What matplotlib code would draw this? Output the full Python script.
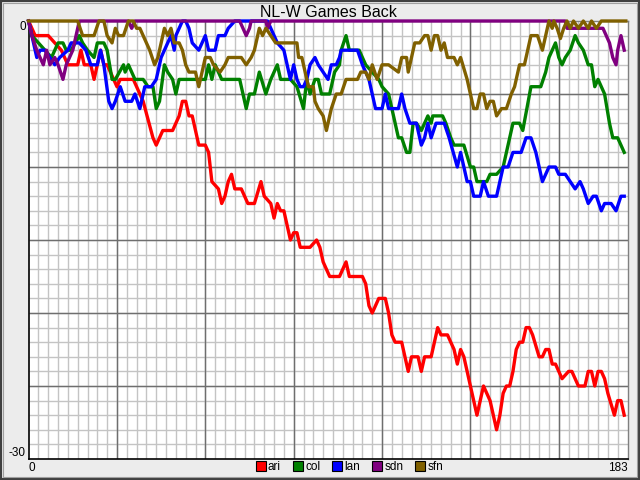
import numpy as np
import matplotlib
matplotlib.use("Agg")
import matplotlib.pyplot as plt
from matplotlib.patches import Patch, Rectangle

plt.rcParams['font.family'] = ['Liberation Sans', 'DejaVu Sans']

# games back per team (day of season, games back)
ari_day = [0, 2, 6, 8, 10, 12, 15, 16, 17, 19, 20, 22, 23, 24, 26, 27, 28, 32, 33, 35,
           38, 39, 41, 44, 46, 47, 48, 49, 50, 52, 54, 55, 56, 58, 59, 60, 61, 62, 63, 65,
           67, 69, 71, 72, 74, 75, 76, 77, 78, 79, 80, 81, 82, 83, 86, 88, 89, 90, 92, 95,
           97, 98, 102, 103, 104, 105, 106, 107, 109, 110, 111, 112, 114, 115, 116, 117, 119, 120, 121, 123,
           124, 125, 126, 128, 130, 131, 132, 133, 134, 135, 136, 137, 138, 139, 140, 141, 142, 143, 144, 145,
           146, 147, 148, 149, 150, 151, 152, 153, 154, 156, 157, 158, 159, 160, 161, 162, 163, 165, 166, 167,
           168, 170, 171, 172, 173, 174, 175, 176, 177, 179, 180, 181, 182]
ari_gb = [0, 1, 1, 1.5, 2, 3, 3, 2, 3, 3, 4, 2, 3, 3, 4, 4.5, 4, 4, 4.5, 5.5,
          8, 8.5, 7.5, 7.5, 6.5, 5.5, 5.5, 6.5, 6.5, 8.5, 8.5, 9, 11, 11.5, 12.5, 12, 11, 10.5, 11.5, 11.5,
          12.5, 12.5, 11, 12, 12.5, 13.5, 12.5, 13, 13, 14, 15, 14.5, 14.5, 15.5, 15.5, 15, 15.5, 16.5, 17.5, 17.5,
          16.5, 17.5, 17.5, 18, 19.5, 20, 19.5, 19, 19, 20, 21.5, 22, 22, 23, 24, 23, 23, 24, 23, 23,
          22, 21, 21.5, 21.5, 22.5, 23.5, 22.5, 23, 24, 25, 26, 27, 26, 25, 25.5, 26, 27, 28, 27, 25.5,
          25, 25, 24, 22.5, 22, 22, 21, 21, 21.5, 23, 23, 22.5, 22.5, 23.5, 23.5, 24, 24.5, 24, 24, 24.5,
          25, 25, 24, 24, 25, 24, 24, 24.5, 25.5, 27, 26, 26, 27]

col_day = [0, 1, 3, 5, 7, 9, 10.5, 11.5, 13, 15.5, 16.5, 18, 20, 21, 23, 24, 25.5, 26.5, 29, 29.5,
           30.5, 32.5, 35, 36.5, 38, 39, 40, 41.5, 42.5, 44, 45, 46, 54, 55, 56, 57, 59, 64.5, 65.5, 66.5,
           67.5, 69, 70.5, 72.5, 74, 76, 77, 80, 82, 84, 85, 86, 87.5, 88.5, 89.5, 92, 93.5, 95, 95.5, 97,
           98, 101, 103, 105, 107, 108, 110, 111.5, 113, 114, 115.5, 116.5, 117.5, 118.5, 120, 121, 122, 123, 123.5, 126.5,
           127.5, 129, 130, 133, 135, 136, 137, 140, 141, 143, 145, 146.5, 148, 150, 151, 153.5, 156.5, 158, 159, 161,
           162, 163, 164, 165.5, 167, 168, 169.5, 171, 172, 173, 174, 176, 177.5, 178.5, 180, 181, 182]
col_gb = [0, 1, 1.5, 2, 2.5, 1.5, 1.5, 2, 2, 1, 1.5, 2, 2.5, 1.5, 1.5, 2, 4, 4, 3, 3.5,
          3, 4, 4, 4.5, 4.5, 6, 5.5, 3, 3.5, 4, 5, 4, 4, 3, 4, 3, 4, 4, 5, 6,
          5, 5, 3.5, 5, 4, 3, 4, 4, 4.5, 6, 4, 5, 4, 4, 5, 5, 3.5, 3, 2, 1,
          2, 2, 3, 3.5, 4, 4.5, 5, 6.5, 8, 8, 9, 9, 7, 7, 7.5, 7, 6.5, 7, 6.5, 6.5,
          7, 8, 8.5, 8.5, 10, 10, 11, 11, 10.5, 10.5, 10, 8.5, 7, 7, 7.5, 4.5, 4.5, 3.5, 2.5, 1.5,
          2.5, 3, 2.5, 2, 1, 1.5, 2, 3, 3, 4.5, 4, 5, 7, 8, 8, 8.5, 9]

lan_day = [0, 1, 2.5, 3.5, 5, 6.5, 8, 9.5, 12, 13, 15.5, 17.5, 19, 21, 22, 23, 24.5, 25.5, 26.5, 28,
           29.5, 31.5, 32.5, 34, 35, 35.5, 37.5, 39, 40.5, 41.5, 42.5, 43.5, 44.5, 45, 47, 48, 49, 50, 52, 53,
           54, 55, 57, 58, 60, 61, 63, 73, 74, 76, 78, 79, 80, 81, 82, 83, 84, 85, 86, 87.5,
           88.5, 90, 91.5, 92.5, 94, 95, 95.5, 100.5, 102, 104, 105, 106, 108, 109, 110, 113, 114, 115, 116.5, 118.5,
           120, 121, 122, 123, 124.5, 127, 128.5, 131, 132, 134, 135, 136, 138, 139, 140.5, 143, 145, 146.5, 148, 150.5,
           152, 153.5, 155, 157, 159, 161, 162, 164, 165.5, 167, 168.5, 169.5, 171, 172.5, 173.5, 175, 176, 178, 179.5, 181,
           182]
lan_gb = [0, 1, 2.5, 2, 2, 2.5, 3, 2.5, 2, 1.5, 1.5, 2, 3, 3, 2, 3, 5.5, 6, 5.5, 4.5,
          5.5, 5.5, 5, 6, 5, 4.5, 4.5, 4, 2.5, 2, 1.5, 1, 2, 1, 0, 0, 0.5, 1.5, 2, 1.5,
          1, 2, 2, 1, 1, 0.5, 0, 0, 0.5, 1.5, 2, 3, 4, 3, 4, 4.5, 4.5, 4, 3, 2.5,
          3, 3.5, 4, 3, 3, 2.5, 2, 2, 3, 4, 5, 6, 6, 5, 6, 6, 5, 6, 7, 7,
          8.5, 8, 7, 8, 7, 7, 8, 10, 9, 11, 11, 12, 12, 11, 12, 12, 10, 10, 9, 9,
          8, 8, 9, 11, 10, 10, 10.5, 10.5, 11, 11.5, 11, 11.5, 12.5, 12, 12, 13, 12.5, 12.5, 13, 12,
          12]

sdn_day = [0, 1, 2.5, 4.5, 5.5, 6.5, 8, 9, 10.5, 11.5, 13.5, 14.5, 15.5, 30.5, 31.5, 32.5, 64.5, 65.5, 66.5, 67.5,
           68, 72.5, 73, 74, 164, 164.5, 175.5, 176.5, 177.5, 178.5, 179.5, 180, 181, 182]
sdn_gb = [0, 1, 2, 3, 2, 3, 2.5, 3, 4, 3, 2, 1, 0, 0, 0.5, 0, 0, 0.5, 1, 0.5,
          0, 0, 0.5, 0, 0, 0.5, 0.5, 1, 1.5, 2.5, 3, 2, 1, 2]

sfn_day = [0, 15, 16.5, 20, 21.5, 23, 24, 25.5, 26.5, 27.5, 29, 30.5, 32, 33, 34, 35, 37, 38.5, 39.5, 41.5,
           42.5, 43.5, 44.5, 46, 47, 48, 49, 51, 52, 53, 54, 55.5, 56.5, 58.5, 60, 61, 65, 66.5, 68, 69,
           70.5, 71.5, 72.5, 74, 75.5, 82, 82.5, 83.5, 84.5, 85.5, 87, 87.5, 88.5, 90, 91, 91.5, 92.5, 94, 95.5, 97,
           100.5, 101.5, 103, 104, 105, 106.5, 108, 110, 113, 114, 115.5, 116, 117, 118, 119.5, 121, 122, 123, 124, 125,
           126, 127, 128, 130, 131, 132, 134, 135, 136, 137, 138, 139, 140, 141, 142, 143, 144.5, 146, 147.5, 148.5,
           150, 151.5, 152.5, 153.5, 155.5, 157, 158, 159, 160, 160.5, 161.5, 162.5, 163.5, 164.5, 165.5, 166.5, 168, 169.5, 171, 172,
           173.5, 175, 182.5]
sfn_gb = [0, 0, 1, 1, 0, 0, 1, 1.5, 0.5, 1, 1, 0, 0, 0.5, 0.5, 1, 2, 3, 2.5, 0.5,
          1, 0.5, 1.5, 1.5, 2, 3, 3.5, 3.5, 4.5, 3.5, 2.5, 2.5, 3, 3.5, 3, 2.5, 2.5, 3, 2.5, 2,
          0.5, 1, 0.5, 1, 1.5, 1.5, 2.5, 2.5, 3.5, 4.5, 4.5, 5.5, 6, 6.5, 7.5, 7, 6, 5, 5, 4,
          4, 3.5, 3.5, 4, 3, 4, 3, 3, 3.5, 2.5, 2.5, 3.5, 2.5, 1.5, 1.5, 1, 1, 2, 1, 1,
          2, 1.5, 2.5, 2.5, 3, 2.5, 4, 5, 6, 6, 5, 5, 6, 5.5, 5.5, 6.5, 6, 6, 5, 4.5,
          3, 3, 2, 1, 1, 2, 1, 0, 0.5, 0, 0.5, 1.2, 0.5, 0, 0.5, 0, 0.5, 0, 0.5, 0,
          0.5, 0, 0]

teams = ['ari', 'col', 'lan', 'sdn', 'sfn']
days = [ari_day, col_day, lan_day, sdn_day, sfn_day]
games_back = [ari_gb, col_gb, lan_gb, sdn_gb, sfn_gb]
colors = ['#FF0000', '#008000', '#0000FF', '#800080', '#806000']

fig = plt.figure(figsize=(6.4, 4.8), dpi=100, facecolor='#ECECEC')
ax = fig.add_axes([28.6 / 640, 21 / 480, 598.9 / 640, 438 / 480])
# flip: bottom edge of the axes box is at 459 px from top
ax.set_position([28.6 / 640, 1 - 459 / 480, 598.9 / 640, 438 / 480])
ax.set_facecolor('white')
ax.set_xlim(0, 183)
ax.set_ylim(-30, 0)

# grid: minor every 3 days / 1 game, major every 27 days / 5 games
ax.vlines(np.arange(3, 183, 3), -30, 0, colors='#C4C4C4', lw=1.0, zorder=0)
ax.hlines(np.arange(-29, 0, 1), 0, 183, colors='#C4C4C4', lw=1.0, zorder=0)
ax.vlines(np.arange(27, 183, 27), -30, 0, colors='#6E6E6E', lw=1.0, zorder=0.5)
ax.hlines(np.arange(-25, 0, 5), 0, 183, colors='#6E6E6E', lw=1.0, zorder=0.5)

for d, gb, c in zip(days, games_back, colors):
    ax.plot(d, -np.array(gb), color=c, lw=2.4, clip_on=False, zorder=3)

ax.set_xticks([0, 183], ['0', '183'])
ax.set_yticks([-30, 0], ['-30', '0'])
ax.tick_params(length=0, labelsize=8.5, pad=2)
xl = ax.get_xticklabels()
xl[0].set_ha('left')
xl[1].set_ha('right')
yl = ax.get_yticklabels()
yl[0].set_va('bottom')
yl[1].set_va('top')

for s in ['left', 'bottom']:
    ax.spines[s].set_color('black')
    ax.spines[s].set_linewidth(1.2)
for s in ['top', 'right']:
    ax.spines[s].set_color('#808080')
    ax.spines[s].set_linewidth(1.0)

ax.set_title('NL-W Games Back', fontsize=11.5, pad=3)

handles = [Patch(facecolor=c, edgecolor='black', lw=0.8) for c in colors]
fig.legend(handles, teams, loc='center', bbox_to_anchor=(349.5 / 640, 1 - 467 / 480),
           ncol=5, frameon=False, fontsize=8.5, handlelength=0.85, handleheight=0.85,
           handletextpad=0.2, columnspacing=1.0, borderpad=0, borderaxespad=0)

# window-like frame
fig.add_artist(Rectangle((0, 0), 1, 1, transform=fig.transFigure, fill=False,
                         edgecolor='#404040', lw=3))
fig.add_artist(Rectangle((3 / 640, 3 / 480), 1 - 6 / 640, 1 - 6 / 480,
                         transform=fig.transFigure, fill=False, edgecolor='#A0A0A0', lw=0.8))

fig.savefig('out.png', dpi=100, facecolor=fig.get_facecolor())
